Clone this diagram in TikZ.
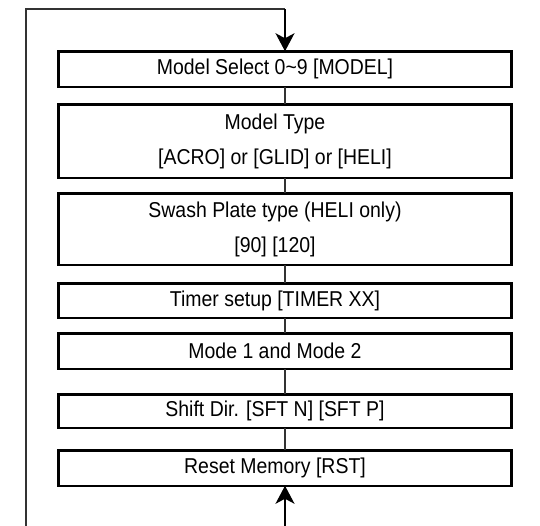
\documentclass[tikz,border=0pt]{standalone}
\usepackage{fontspec}
\setmainfont{Liberation Sans}[FakeStretch=0.905]
\usetikzlibrary{arrows.meta}
\begin{document}
\begin{tikzpicture}[x=1pt,y=-1pt,
  stepbox/.style={draw=black, line width=2.5pt, minimum width=453pt, inner sep=0pt, outer sep=0pt},
  steptext/.style={align=center, inner sep=0pt, xshift=-10pt, font=\fontsize{21.5}{35}\selectfont},
  link/.style={draw=black!80, line width=1.2pt},
  loop/.style={draw=black!80, line width=1.6pt},
  tip/.style={-{Stealth[length=18pt,width=19pt,inset=5pt]}, line width=1.6pt}
]
\useasboundingbox (0,0) rectangle (540,525);
\node[stepbox, minimum height=35.5pt, label={[steptext]center:Model Select 0\char`\~9 [MODEL]}] (b1) at (285,69) {};
\node[stepbox, minimum height=73.5pt, label={[steptext]center:{Model Type\\{}[ACRO] or [GLID] or [HELI]}}] (b2) at (285,141) {};
\node[stepbox, minimum height=71.5pt, label={[steptext]center:{Swash Plate type (HELI only)\\{}[90] [120]}}] (b3) at (285,229) {};
\node[stepbox, minimum height=34.5pt, label={[steptext]center:{Timer setup [TIMER XX]}}] (b4) at (285,300.5) {};
\node[stepbox, minimum height=35.5pt, label={[steptext]center:{Mode 1 and Mode 2}}] (b5) at (285,351) {};
\node[stepbox, minimum height=33.5pt, label={[steptext]center:{Shift Dir. [SFT N] [SFT P]}}] (b6) at (285,411) {};
\node[stepbox, minimum height=35.5pt, label={[steptext]center:{Reset Memory [RST]}}] (b7) at (285,468) {};
\draw[link] (b1) -- (b2);
\draw[link] (b2) -- (b3);
\draw[link] (b3) -- (b4);
\draw[link] (b4) -- (b5);
\draw[link] (b5) -- (b6);
\draw[link] (b6) -- (b7);
\coordinate (lb) at (26,526);
\coordinate (lt) at (26,9);
\coordinate (rt) at (285,9);
\coordinate (bb) at (285,526);
\draw[loop] (lb) -- (lt) -- (rt);
\draw[tip, draw=black] (rt) -- (b1.north);
\draw[tip, draw=black] (bb) -- (b7.south);
\end{tikzpicture}
\end{document}
